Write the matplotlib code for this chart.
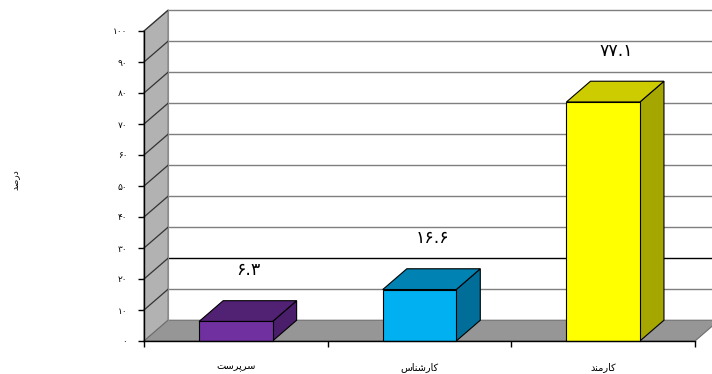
import matplotlib
matplotlib.use("Agg")
import matplotlib.pyplot as plt
from matplotlib.patches import Polygon, Rectangle

# ---- data ----
# category names written in Arabic presentation forms, in visual (left-to-right) order
categories = ["\uFE96\uFEB3\uFEAE\uFB58\uFEAE\uFEB3",          # سرپرست
              "\uFEB1\uFE8E\uFEE8\uFEB7\uFEAD\uFE8E\uFB90",    # کارشناس
              "\uFEAA\uFEE8\uFEE3\uFEAD\uFE8E\uFB90"]          # کارمند
values = [6.3, 16.6, 77.1]
y_ticks = list(range(0, 101, 10))
y_label = "\uFEAA\uFEBB\uFEAD\uFEA9"                           # درصد

front_colors = ["#7030A0", "#00B0F0", "#FFFF00"]
top_colors = ["#512174", "#0082B2", "#CCCC00"]
side_colors = ["#4A1E6A", "#006E98", "#A6A600"]

PERSIAN = str.maketrans("0123456789", "\u06F0\u06F1\u06F2\u06F3\u06F4\u06F5\u06F6\u06F7\u06F8\u06F9")


def fa(s):
    return str(s).translate(PERSIAN)


plt.rcParams["font.family"] = ["DejaVu Sans"]

fig = plt.figure(figsize=(7.12, 3.74), dpi=100)
ax = fig.add_axes([144 / 712, 33 / 374, 551 / 712, 310 / 374])
ax.set_xlim(-0.5, 2.5)
ax.set_ylim(0, 100)
ax.set_facecolor("none")

# oblique depth of the 3-D box (category units, value units)
dx, dy = 0.131, 6.7
x0 = -0.5
x_far = 2.5 + dx + 0.3

# back wall
ax.add_patch(Polygon([(x0 + dx, dy), (x_far, dy), (x_far, 100 + dy), (x0 + dx, 100 + dy)],
                     closed=True, facecolor="white", edgecolor="none", zorder=0, clip_on=False))
# side wall
ax.add_patch(Polygon([(x0, 0), (x0 + dx, dy), (x0 + dx, 100 + dy), (x0, 100)],
                     closed=True, facecolor="#B2B2B2", edgecolor="#7A7A7A", lw=0.8,
                     zorder=1, clip_on=False))
# floor
ax.add_patch(Polygon([(x0, 0), (2.5, 0), (2.5 + dx, dy), (x0 + dx, dy)],
                     closed=True, facecolor="#969696", edgecolor="#6E6E6E", lw=0.8,
                     zorder=1, clip_on=False))

# grid lines across side wall and back wall
for v in y_ticks[1:]:
    col = "#000000" if v == 20 else "#7F7F7F"
    ax.plot([x0 + dx, x_far], [v + dy, v + dy], color=col, lw=1.0, zorder=1.5, clip_on=False)
    ax.plot([x0, x0 + dx], [v, v + dy], color="#333333", lw=0.9, zorder=1.6, clip_on=False)
ax.plot([x0 + dx, x0 + dx], [dy, 100 + dy], color="#8C8C8C", lw=0.8, zorder=1.6, clip_on=False)

# 3-D bars
w = 0.40
for i, v in enumerate(values):
    l, r = i - w / 2, i + w / 2
    ax.add_patch(Polygon([(r, 0), (r + dx, dy), (r + dx, v + dy), (r, v)], closed=True,
                         facecolor=side_colors[i], edgecolor="black", lw=0.8, zorder=3,
                         clip_on=False))
    ax.add_patch(Polygon([(l, v), (r, v), (r + dx, v + dy), (l + dx, v + dy)], closed=True,
                         facecolor=top_colors[i], edgecolor="black", lw=0.8, zorder=3,
                         clip_on=False))
    ax.add_patch(Rectangle((l, 0), w, v, facecolor=front_colors[i], edgecolor="black",
                           lw=0.8, zorder=4, clip_on=False))
    ax.text(i + 0.07, v + 16.5, fa(v), ha="center", va="center", fontsize=12.5,
            color="black", zorder=6)

# axes
for s in ("top", "right"):
    ax.spines[s].set_visible(False)
ax.spines["left"].set_zorder(5)
ax.spines["bottom"].set_zorder(5)
ax.spines["left"].set_linewidth(1.0)
ax.spines["bottom"].set_linewidth(1.0)

ax.set_yticks(y_ticks)
ax.set_yticklabels([fa(t) for t in y_ticks], fontsize=6.5)
ax.tick_params(axis="y", direction="out", length=4, width=1.0, pad=8)

ax.set_xticks([-0.5, 0.5, 1.5, 2.5])
ax.set_xticklabels([])
ax.tick_params(axis="x", which="major", direction="out", length=4, width=1.0)
ax.set_xticks([0, 1, 2], minor=True)
ax.set_xticklabels(categories, minor=True, fontsize=7)
ax.tick_params(axis="x", which="minor", length=0, pad=15)

fig.text(15 / 712, 1 - 180 / 374, y_label, rotation=90, ha="center", va="center", fontsize=6.5)

fig.savefig("out.png", dpi=100)
